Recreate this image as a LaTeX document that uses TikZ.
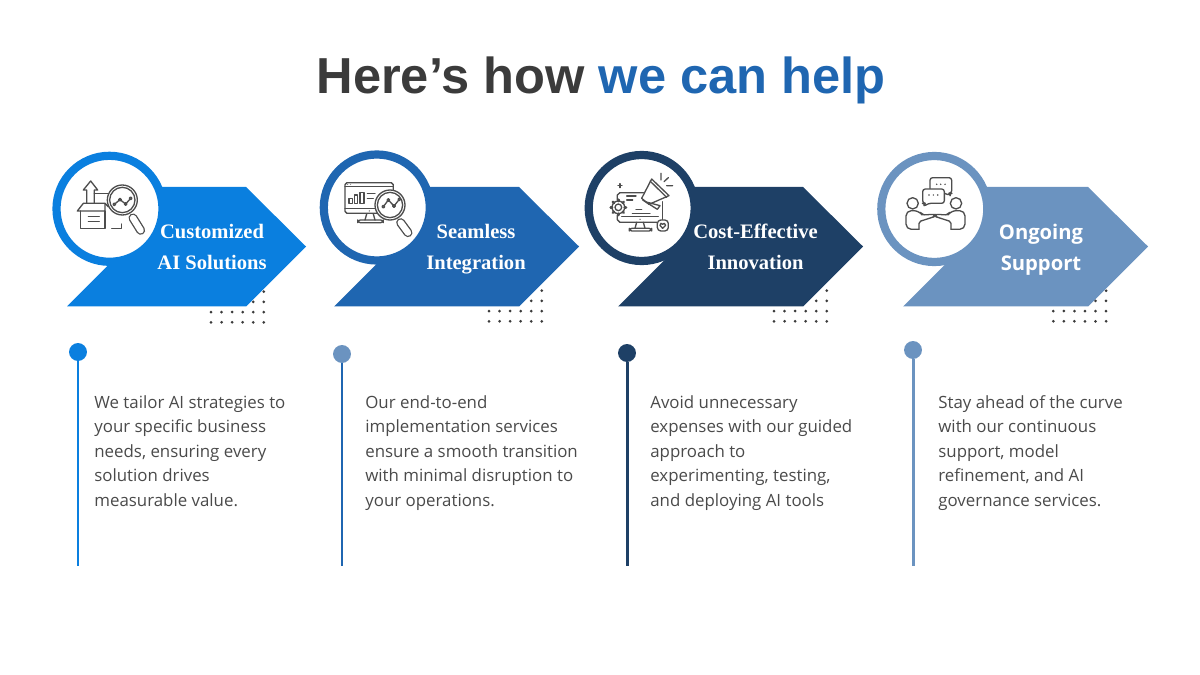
\documentclass[tikz,border=0pt]{standalone}
\usepackage{fontspec}
\usepackage{xcolor}
\newfontfamily\titlefont{Liberation Sans}
\newfontfamily\labelfont{Liberation Serif}
\newfontfamily\bodyfont{Open Sans}
\definecolor{colA}{HTML}{0A7FDF}
\definecolor{colB}{HTML}{1F66B1}
\definecolor{colC}{HTML}{1E4066}
\definecolor{colD}{HTML}{6B93C0}
\definecolor{inkdark}{HTML}{3B3B3B}
\definecolor{inkbody}{HTML}{4A4A4A}
\definecolor{inkicon}{HTML}{4D4D4D}
\tikzset{
 ring/.style={fill=white, line width=4.67pt},
 tag/.style={text=white, align=center, inner sep=0, font=\labelfont\bfseries\fontsize{11.7}{17.6}\selectfont},
 tagsans/.style={text=white, align=center, inner sep=0, font=\bodyfont\bfseries\fontsize{11.5}{17.6}\selectfont},
 blurb/.style={text=inkbody, anchor=north west, align=left, inner sep=0, font=\bodyfont\fontsize{9.6}{13.95}\selectfont},
 knob/.style={circle, inner sep=0, minimum size=10.2pt},
 icon/.style={x=.02cm/3, y=-.02cm/3, inkicon, line width=.75pt, line cap=round, line join=round},
 handle/.style={line width=.75pt, double=white, double distance=3.6pt, line cap=round},
}
\begin{document}
\begin{tikzpicture}[x=.02cm, y=-.02cm]
\useasboundingbox (0,0) rectangle (1200,675);
\node[inner sep=0, text=inkdark, font=\titlefont\bfseries\fontsize{28.8}{32}\selectfont] (title) at (601,80) {Here’s how \textcolor{colB}{we can help}};
\foreach \col/\lft/\trp/\cx/\cy/\dx/\dy in {colA/67/246/109.5/208.8/211/291.7, colB/334/519/376.8/207.5/489/290.7, colC/618/803/641.7/208/774/290.7, colD/903/1088/934.3/209/1053.3/290.7} {
 \foreach \r/\c in {0/5,1/4,2/0,3/0} {
  \foreach \k in {\c,...,5} {
   \fill[inkdark] (\dx+\k*10.55,\dy+\r*10.2) circle (1.5);
  }
 }
 \fill[\col] (\cx,187) -- (\trp,187) -- (\trp+60,246.5) -- (\trp,306.5) -- (\lft,306.5) -- (\lft+50,256.5) -- cycle;
 \draw[\col, ring] (\cx,\cy) circle (53);
}
\begin{scope}[shift={(60,165)}, icon]
\draw (62,138) -- (62,190) -- (135,190) -- (135,138);
\draw (52,138) -- (70,115) -- (135,115) -- (135,138) -- cycle;
\draw (135,115) -- (146,126);
\draw (155,190) -- (185,190) -- (185,177);
\draw (85,155) -- (118,155) (85,170) -- (118,170);
\draw (80,115) -- (80,75) -- (70,75) -- (92,48) -- (113,75) -- (103,75) -- (103,115);
\draw (103,85) -- (146,85);
\draw[fill=white] (187,105) circle (45);
\draw (187,105) circle (38);
\draw (163,118) -- (180,104) -- (197,117) -- (212,100);
\foreach \p in {(163,118),(180,104),(197,117),(212,100)} {\draw[fill=white] \p circle (4);}
\draw[handle] (219,159) -- (242,196);
\end{scope}
\begin{scope}[shift={(335,170)}, icon]
\draw (125,130) -- (36,130) -- (30,124) -- (30,44) -- (36,38) -- (169,38) -- (175,44) -- (175,62);
\draw (30,50) -- (175,50) (30,115) -- (122,115);
\fill (38,43) circle (1.5) (47,43) circle (1.5) (103,123) circle (2);
\draw (95,132) -- (90,150) (115,132) -- (120,150);
\draw[rounded corners=1.5pt] (68,150) rectangle (145,158);
\draw (42,85) rectangle (52,100) (58,75) rectangle (68,100) (75,68) rectangle (87,100);
\draw (97,70) -- (120,70) (97,85) -- (115,85);
\draw[fill=white] (165,105) circle (45);
\draw (165,105) circle (38);
\draw (145,110) -- (160,90) -- (177,108) -- (193,88);
\foreach \p in {(145,110),(160,90),(177,108),(193,88)} {\draw[fill=white] \p circle (4);}
\draw[handle] (197,158) -- (219,188);
\end{scope}
\begin{scope}[shift={(600,165)}, icon]
\draw (130,83) -- (60,83) -- (52,90) -- (52,105);
\draw (52,150) -- (52,164) -- (60,172) -- (170,172);
\draw (188,110) -- (188,165);
\draw (65,155) -- (175,155);
\draw (80,93) -- (108,93) (80,105) -- (98,105) (108,133) -- (125,133) (97,145) -- (150,145);
\fill (120,163) circle (2);
\draw (110,172) -- (105,190) (130,172) -- (135,190);
\draw[rounded corners=1.5pt] (88,190) rectangle (155,198);
\draw[fill=white, rounded corners=2pt] (172,165) rectangle (205,198);
\draw (188,190) -- (180,181) -- (183,175) -- (188,178) -- (193,175) -- (197,181) -- cycle;
\draw[fill=white] (55,127) circle (19);
\draw (55,127) circle (10);
\foreach \a in {0,45,...,315} {\draw[line width=1.5pt] (55,127) ++(\a:19) -- ++(\a:4);}
\draw (60,56) -- (60,68) (54,62) -- (66,62);
\draw[fill=white] (155,42) -- (207,92) -- (147,118) -- (125,100) -- cycle;
\draw (150,48) -- (200,97);
\draw[fill=white] (135,110) -- (180,122) -- (172,133) -- (128,105);
\draw (183,25) -- (183,45) (205,38) -- (192,50) (218,62) -- (200,62);
\end{scope}
\begin{scope}[shift={(895,170)}, icon]
\draw[rounded corners=1.5pt] (148,70) -- (165,76) -- (163,70) -- (170,70) -- (170,23) -- (105,23) -- (105,57);
\draw[fill=white, rounded corners=1.5pt] (90,100) -- (86,110) -- (100,100) -- (148,100) -- (148,57) -- (83,57) -- (83,100) -- cycle;
\fill (125,43) circle (2.5) (137,43) circle (2.5) (150,43) circle (2.5);
\fill (102,75) circle (2.5) (115,75) circle (2.5) (128,75) circle (2.5);
\draw (53,100) circle (17) (183,100) circle (17);
\draw[rounded corners=3pt] (72,178) -- (33,178) -- (33,122) -- (72,122) -- (85,140) -- (116,128) -- (120,133);
\draw[rounded corners=3pt] (168,178) -- (210,178) -- (210,122) -- (168,122) -- (155,140) -- (124,128) -- (120,133);
\draw[rounded corners=1pt] (72,178) -- (72,155) -- (118,140) (168,178) -- (168,155) -- (122,140);
\end{scope}
\node[tag] (tagA) at (212,247) {Customized\\AI Solutions};
\node[tag] (tagB) at (476,249.5) {Seamless\\Integration};
\node[tag] (tagC) at (755.5,246.5) {Cost-Effective\\Innovation};
\node[tagsans] (tagD) at (1041,250) {Ongoing\\Support};
\foreach \i/\x/\y/\col/\dotcol in {1/78/352/colA/colA, 2/342/354/colB/colD, 3/627/353/colC/colC, 4/913/350/colD/colD} {
 \node[knob, fill=\dotcol] (dot\i) at (\x,\y) {};
 \coordinate (end\i) at (\x,566);
 \draw[\col, line width=1.7pt] (dot\i) -- (end\i);
}
\foreach \i/\x/\txt in {1/94/{We tailor AI strategies to\\your specific business\\needs, ensuring every\\solution drives\\measurable value.}, 2/365/{Our end-to-end\\implementation services\\ensure a smooth transition\\with minimal disruption to\\your operations.}, 3/650/{Avoid unnecessary\\expenses with our guided\\approach to\\experimenting, testing,\\and deploying AI tools}, 4/938/{Stay ahead of the curve\\with our continuous\\support, model\\refinement, and AI\\governance services.}} {
 \node[blurb] (blurb\i) at (\x,395) {\txt};
}
\end{tikzpicture}
\end{document}
